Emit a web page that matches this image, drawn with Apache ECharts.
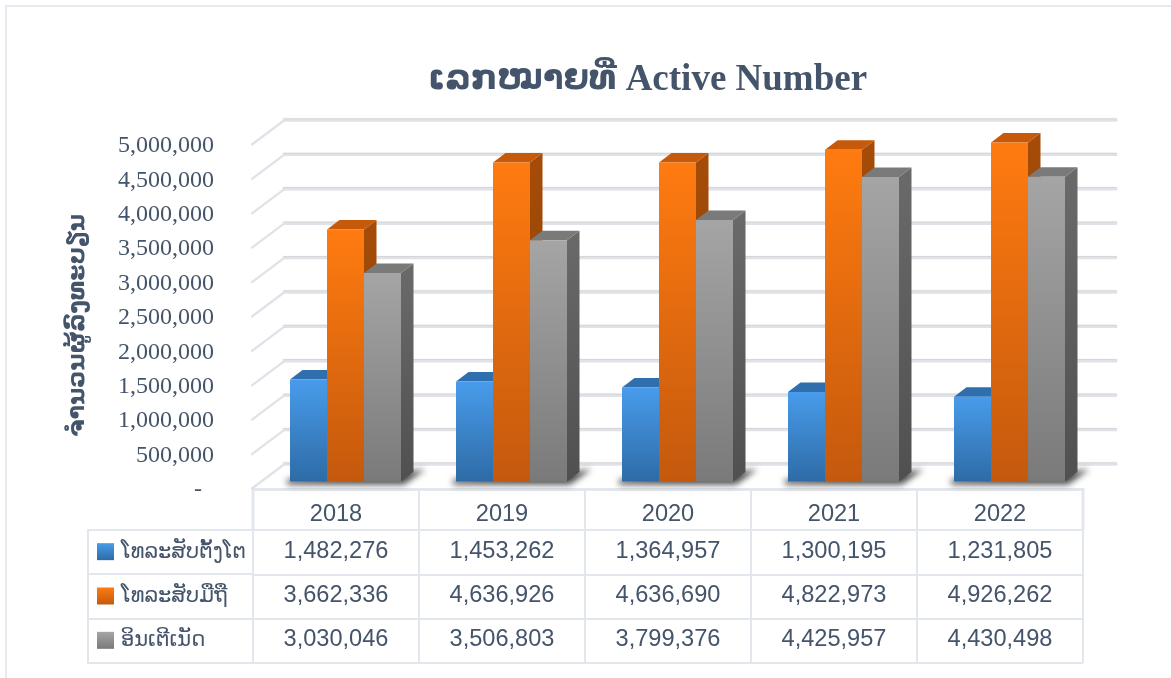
<!DOCTYPE html>
<html><head><meta charset="utf-8">
<style>html,body{margin:0;padding:0;background:#fff}#c{width:1171px;height:678px}</style>
<script src="https://cdn.jsdelivr.net/npm/echarts@6/dist/echarts.min.js"></script>
</head><body><div id="c"></div>
<script>
const years = ['2018','2019','2020','2021','2022'];
const seriesNames = ['ໂທລະສັບຕັ້ງໂຕ','ໂທລະສັບມືຖື','ອິນເຕີເນັດ'];
const fixedLine = [1482276,1453262,1364957,1300195,1231805];
const mobile = [3662336,4636926,4636690,4822973,4926262];
const internet = [3030046,3506803,3799376,4425957,4430498];
const yTicks = [0,500000,1000000,1500000,2000000,2500000,3000000,3500000,4000000,4500000,5000000];
const titleLao = 'ເລກໝາຍທີ່';
const titleLatin = 'Active Number';
const yAxisTitle = 'ຈຳນວນຜູ້ລົງທະບຽນ';

const TEXT = '#44546A', RULE = '#E2E6ED';
const LG = (a,b)=>new echarts.graphic.LinearGradient(0,0,0,1,[{offset:0,color:a},{offset:1,color:b}]);
const palette = [
  {front:['#489CEB','#2E6BA6'], top:'#2F6FAE', side:['#2A639A','#234F7E']},
  {front:['#FF7B10','#C4590D'], top:'#C65A0A', side:['#A64C08','#8A3F06']},
  {front:['#A5A5A5','#7A7A7A'], top:'#7A7A7A', side:['#6A6A6A','#505050']}
];
const allValues = [fixedLine,mobile,internet];
const BAR_SHARE = 37/166, DX = 12.5, DY = 9.5;

function barItem(k){
  return function(params, api){
    const cat = api.value(0), v = api.value(1);
    const top = api.coord([cat,v]), base = api.coord([cat,0]);
    const w = api.size([1,0])[0]*BAR_SHARE;
    const x0 = top[0] + (k-1.5)*w, x1 = x0+w, yT = top[1], yB = base[1];
    const p = palette[k];
    return {type:'group',silent:true,children:[
      {type:'polygon',shape:{points:[[x1,yT],[x1+DX,yT-DY],[x1+DX,yB-DY],[x1,yB]]},style:{fill:LG(p.side[0],p.side[1])}},
      {type:'polygon',shape:{points:[[x0,yT],[x1,yT],[x1+DX,yT-DY],[x0+DX,yT-DY]]},style:{fill:p.top}},
      {type:'rect',shape:{x:x0,y:yT,width:w,height:yB-yT},style:{fill:LG(p.front[0],p.front[1])}}
    ]};
  };
}
// soft floor shadow: the polygon sits off-canvas, only its blurred shadow lands on the floor
const OFF = 3000;
function shadowItem(params, api){
  const c = api.coord([api.value(0),0]);
  const w = api.size([1,0])[0]*BAR_SHARE;
  const x0 = c[0]-1.5*w, x1 = c[0]+1.5*w, y = c[1];
  const pts = [[x0-3,y-2],[x1+DX,y-DY-1],[x1+DX+12,y-DY-3],[x1+3,y+3],[x0-3,y+3]].map(p=>[p[0]-OFF,p[1]]);
  return {type:'polygon',silent:true,shape:{points:pts},
    style:{fill:'#000',shadowColor:'rgba(0,0,0,0.7)',shadowBlur:6,shadowOffsetX:OFF}};
}
function wallItem(params, api){
  const c = api.coord([0,api.value(0)]);
  const y = c[1];
  const xL = c[0]-93.5, xB = c[0]-61.5, xR = xB+832;
  return {type:'group',silent:true,children:[
    {type:'line',shape:{x1:xB,y1:y-17,x2:xR,y2:y-17},style:{stroke:'#DFE2E8',lineWidth:2.4,shadowColor:'rgba(0,0,0,0.18)',shadowBlur:1,shadowOffsetY:-1,lineCap:'round'}},
    {type:'line',shape:{x1:xL,y1:y+7,x2:xB,y2:y-17},style:{stroke:'#DFE2E8',lineWidth:2.2,lineCap:'round'}}
  ]};
}
function cellItem(params, api){
  const c = api.coord([api.value(0),api.value(1)]);
  return {type:'text',silent:true,x:c[0],y:c[1]-1,style:{text:Number(api.value(2)).toLocaleString('en-US'),
    fontFamily:'Liberation Sans',fontSize:23.6,fill:TEXT,align:'center',verticalAlign:'middle'}};
}
function swatchItem(params, api){
  const k = api.value(1), c = api.coord([0,k]);
  const p = palette[k];
  return {type:'rect',silent:true,shape:{x:97,y:c[1]-9,width:17,height:17},style:{fill:LG(p.front[0],p.front[1])}};
}
const cells = [];
allValues.forEach((arr,r)=>arr.forEach((v,c)=>cells.push([c,r,v])));

const chart = echarts.init(document.getElementById('c'),null,{renderer:'canvas'});
chart.setOption({
  animation:false,
  backgroundColor:'#fff',
  textStyle:{color:TEXT},
  title:{text:'{lao|'+titleLao+'} {en|'+titleLatin+'}',left:642.5,top:57,textAlign:'center',
    textStyle:{color:TEXT,fontWeight:'bold',fontSize:37,fontFamily:'Liberation Serif',
      rich:{
        lao:{fontFamily:'DejaVu Sans',fontWeight:'bold',fontSize:33.5,color:TEXT},
        en:{fontFamily:'Liberation Serif',fontWeight:'bold',fontSize:37,color:TEXT}
      }}},
  grid:[
    {left:262.5,width:830,top:137.5,height:344},
    {left:226,width:26,top:146,height:344},
    {left:253,width:830,top:530,height:133}
  ],
  xAxis:[
    {gridIndex:0,type:'category',data:years,show:false},
    {gridIndex:1,type:'category',data:years,show:false},
    {gridIndex:2,type:'category',data:years,position:'top',
      axisLine:{show:false},axisTick:{show:false},
      axisLabel:{margin:4,fontFamily:'Liberation Sans',fontSize:23.6,color:TEXT},
      splitLine:{show:true,lineStyle:{color:RULE,width:2}}}
  ],
  yAxis:[
    {gridIndex:0,type:'value',min:0,max:5000000,interval:500000,show:false},
    {gridIndex:1,type:'value',min:0,max:5000000,interval:500000,
      axisLine:{show:false},axisTick:{show:false},splitLine:{show:false},
      axisLabel:{margin:12,fontFamily:'Liberation Serif',fontSize:24,color:TEXT,
        formatter:v=>v===0?'-\u00A0\u00A0':v.toLocaleString('en-US')},
      name:yAxisTitle,nameLocation:'middle',nameRotate:90,nameGap:136,
      nameTextStyle:{fontFamily:'DejaVu Sans',fontWeight:'bold',fontSize:23.7,color:TEXT,padding:[0,15,0,0]}},
    {gridIndex:2,type:'category',data:seriesNames,inverse:true,
      axisLine:{show:false},axisTick:{show:false},
      axisLabel:{margin:132,align:'left',fontFamily:'DejaVu Sans',fontSize:21,color:TEXT},
      splitLine:{show:true,lineStyle:{color:RULE,width:2}}}
  ],
  graphic:[
    {type:'polyline',silent:true,z:0,shape:{points:[[6,678],[6,6],[1171,6]]},style:{stroke:'#E7EAF0',lineWidth:2,fill:null}},
    {type:'polyline',silent:true,z:0,shape:{points:[[253,530],[253,489.5],[1083,489.5],[1083,530]]},style:{stroke:RULE,lineWidth:3,fill:null}},
    {type:'line',silent:true,z:0,shape:{x1:87,y1:530,x2:253,y2:530},style:{stroke:RULE,lineWidth:2}},
    {type:'line',silent:true,z:0,shape:{x1:87,y1:574,x2:253,y2:574},style:{stroke:RULE,lineWidth:2}},
    {type:'line',silent:true,z:0,shape:{x1:87,y1:619,x2:253,y2:619},style:{stroke:RULE,lineWidth:2}},
    {type:'line',silent:true,z:0,shape:{x1:87,y1:663,x2:253,y2:663},style:{stroke:RULE,lineWidth:2}},
    {type:'line',silent:true,z:0,shape:{x1:88,y1:530,x2:88,y2:663},style:{stroke:RULE,lineWidth:2}},
    ...[419,585,751,917].map(x=>({type:'line',silent:true,z:0,shape:{x1:x,y1:490,x2:x,y2:530},style:{stroke:RULE,lineWidth:2}}))
  ],
  series:[
    {type:'custom',name:'walls',xAxisIndex:0,yAxisIndex:0,clip:false,data:yTicks.map(v=>[v]),encode:{y:0},renderItem:wallItem},
    {type:'custom',name:'shadow',xAxisIndex:0,yAxisIndex:0,clip:false,data:years.map((y,i)=>[i]),renderItem:shadowItem},
    ...seriesNames.map((n,k)=>({type:'custom',name:n,xAxisIndex:0,yAxisIndex:0,clip:false,
      data:allValues[k].map((v,i)=>[i,v]),encode:{x:0,y:1},renderItem:barItem(k)})),
    {type:'custom',name:'cells',xAxisIndex:2,yAxisIndex:2,clip:false,data:cells,encode:{x:0,y:1},renderItem:cellItem},
    {type:'custom',name:'swatches',xAxisIndex:2,yAxisIndex:2,clip:false,data:seriesNames.map((n,k)=>[0,k]),encode:{x:0,y:1},renderItem:swatchItem}
  ]
});
</script></body></html>
